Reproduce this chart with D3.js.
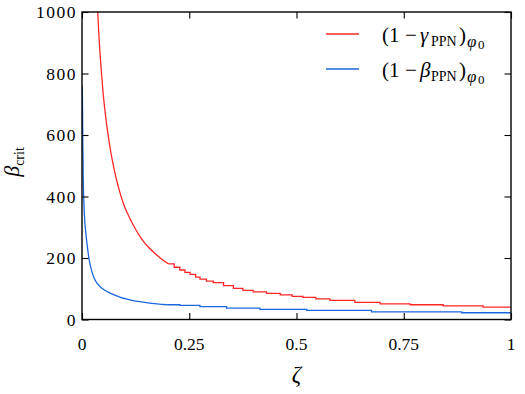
<!DOCTYPE html>
<html>
<head>
<meta charset="utf-8">
<script src="https://cdn.jsdelivr.net/npm/d3@7"></script>
<style>
  body { margin: 0; background: #fff; }
</style>
</head>
<body>
<div id="chart"></div>
<script>

// values
var gammaZeta = [ 0.034, 0.0366, 0.040, 0.045, 0.050, 0.056, 0.062, 0.068, 0.074, 0.080,
  0.087, 0.093, 0.100, 0.107, 0.114, 0.124, 0.135, 0.145, 0.155, 0.165, 0.180, 0.190,
  0.202, 0.215, 0.228, 0.240, 0.252, 0.265, 0.275, 0.290, 0.306, 0.330, 0.353, 0.375,
  0.399, 0.430, 0.462, 0.490, 0.515, 0.545, 0.578, 0.636, 0.695, 0.765, 0.842, 0.935, 1.0 ];
var gammaCrit = [ 1075, 1000, 910, 810, 725, 650, 590, 538, 495, 457,
  420, 392, 364, 342, 322, 296, 270, 251, 235, 221, 203, 192,
  181, 170, 161, 153, 147, 138, 131, 125, 120, 110, 101, 95,
  90, 85, 80, 75, 72, 67, 62, 56, 51, 48, 44, 40, 40 ];

var betaZeta = [ 0.0005, 0.001, 0.002, 0.003, 0.005, 0.007, 0.009, 0.0125, 0.016, 0.020,
  0.027, 0.035, 0.047, 0.060, 0.075, 0.090, 0.105, 0.125, 0.150, 0.175, 0.200, 0.228,
  0.275, 0.337, 0.415, 0.524, 0.675, 0.885, 1.0 ];
var betaCrit = [ 760, 720, 560, 454, 360, 310, 280, 237, 200, 172,
  139, 118, 101, 90, 80, 72, 66, 60, 55, 51, 48, 46,
  42, 37, 33, 30, 25, 22, 22 ];

var xTicks = [ 0, 0.25, 0.5, 0.75, 1 ];
var xTickLabels = [ "0", "0.25", "0.5", "0.75", "1" ];
var yTicks = [ 0, 200, 400, 600, 800, 1000 ];

var width = 525, height = 394;
var margin = { left: 82, right: 14, top: 12, bottom: 74.5 };
var serif = "'Liberation Serif', 'DejaVu Serif', serif";

var svg = d3.select( "#chart" ).append( "svg" )
  .attr( "width", width ).attr( "height", height )
  .attr( "font-family", serif );

var x = d3.scaleLinear().domain( [ 0, 1 ] ).range( [ margin.left, width - margin.right ] );
var y = d3.scaleLinear().domain( [ 0, 1000 ] ).range( [ height - margin.bottom, margin.top ] );

svg.append( "clipPath" ).attr( "id", "plot" ).append( "rect" )
  .attr( "x", x( 0 ) ).attr( "y", y( 1000 ) )
  .attr( "width", x( 1 ) - x( 0 ) ).attr( "height", y( 0 ) - y( 1000 ) );

// steep part drawn smooth, flat tail as the staircase the data shows
function drawSeries( zs, vs, stepFrom, color ) {
  var pts = zs.map( function( z, i ) { return [ z, vs[ i ] ]; } );
  var head = pts.filter( function( p ) { return p[ 0 ] <= stepFrom; } );
  var tail = pts.filter( function( p ) { return p[ 0 ] >= stepFrom; } );
  var g = svg.append( "g" ).attr( "clip-path", "url(#plot)" );
  var smooth = d3.line().x( function( p ) { return x( p[ 0 ] ); } )
    .y( function( p ) { return y( p[ 1 ] ); } ).curve( d3.curveMonotoneX );
  var steps = d3.line().x( function( p ) { return x( p[ 0 ] ); } )
    .y( function( p ) { return y( p[ 1 ] ); } ).curve( d3.curveStepAfter );
  g.append( "path" ).attr( "d", smooth( head ) );
  g.append( "path" ).attr( "d", steps( tail ) );
  g.selectAll( "path" ).attr( "fill", "none" ).attr( "stroke", color )
    .attr( "stroke-width", 1.3 );
}

drawSeries( gammaZeta, gammaCrit, 0.202, "#ff2626" );
drawSeries( betaZeta, betaCrit, 0.200, "#1c66dc" );

// axes with inward ticks on all four sides
function ticks( axis, scale, values, size ) {
  return axis( scale ).tickValues( values ).tickSize( size ).tickFormat( "" );
}
var xMinor = d3.range( 0, 1.0001, 0.05 );
var yMinor = d3.range( 0, 1001, 100 );

var axes = [
  [ d3.axisBottom, x, "translate(0," + y( 0 ) + ")" ],
  [ d3.axisTop, x, "translate(0," + y( 1000 ) + ")" ],
  [ d3.axisLeft, y, "translate(" + x( 0 ) + ",0)" ],
  [ d3.axisRight, y, "translate(" + x( 1 ) + ",0)" ]
];
axes.forEach( function( a, i ) {
  var isX = i < 2;
  var g = svg.append( "g" ).attr( "transform", a[ 2 ] );
  g.call( ticks( a[ 0 ], a[ 1 ], isX ? xMinor : yMinor, -4 ) );
  g.call( ticks( a[ 0 ], a[ 1 ], isX ? xTicks : yTicks, -6.5 ) );
  g.select( ".domain" ).remove();
  g.selectAll( "line" ).attr( "stroke", "#000" ).attr( "stroke-width", 1.1 );
  g.selectAll( "text" ).remove();
} );

svg.append( "rect" )
  .attr( "x", x( 0 ) ).attr( "y", y( 1000 ) )
  .attr( "width", x( 1 ) - x( 0 ) ).attr( "height", y( 0 ) - y( 1000 ) )
  .attr( "fill", "none" ).attr( "stroke", "#000" ).attr( "stroke-width", 1.4 );

// tick labels
svg.append( "g" ).selectAll( "text" ).data( xTicks ).join( "text" )
  .attr( "x", function( d ) { return x( d ); } )
  .attr( "y", y( 0 ) + 30 )
  .attr( "text-anchor", "middle" )
  .attr( "font-size", 17.5 )
  .text( function( d, i ) { return xTickLabels[ i ]; } );

svg.append( "g" ).selectAll( "text" ).data( yTicks ).join( "text" )
  .attr( "x", x( 0 ) - 5 )
  .attr( "y", function( d ) { return y( d ) + 6; } )
  .attr( "text-anchor", "end" )
  .attr( "font-size", 17.5 )
  .attr( "letter-spacing", 1.5 )
  .text( function( d ) { return d; } );

// axis titles
svg.append( "text" )
  .attr( "x", ( x( 0 ) + x( 1 ) ) / 2 ).attr( "y", 382 )
  .attr( "text-anchor", "middle" )
  .attr( "font-size", 23 ).attr( "font-style", "italic" )
  .text( "ζ" );

var yTitle = svg.append( "text" )
  .attr( "transform", "translate(19,162) rotate(-90)" )
  .attr( "text-anchor", "middle" )
  .attr( "font-size", 22 );
yTitle.append( "tspan" ).attr( "font-style", "italic" ).text( "β" );
yTitle.append( "tspan" ).attr( "dy", 5 ).attr( "font-size", 14 ).text( "crit" );

// legend
var legend = [
  { color: "#ff2626", sym: "γ", y: 34 },
  { color: "#1c66dc", sym: "β", y: 69 }
];
legend.forEach( function( l ) {
  svg.append( "line" )
    .attr( "x1", 326 ).attr( "x2", 359 ).attr( "y1", l.y ).attr( "y2", l.y )
    .attr( "stroke", l.color ).attr( "stroke-width", 1.3 );
  var base = l.y + 8;
  var t = svg.append( "text" ).attr( "font-size", 21 );
  t.append( "tspan" ).attr( "x", 382 ).attr( "y", base ).text( "(1" );
  t.append( "tspan" ).attr( "x", 405 ).attr( "y", base ).text( "−" );
  t.append( "tspan" ).attr( "x", 420 ).attr( "y", base )
    .attr( "font-style", "italic" ).text( l.sym );
  t.append( "tspan" ).attr( "x", 431 ).attr( "y", base + 4 )
    .attr( "font-size", 14 ).text( "PPN" );
  t.append( "tspan" ).attr( "x", 459 ).attr( "y", base ).text( ")" );
  t.append( "tspan" ).attr( "x", 467 ).attr( "y", base + 5 ).attr( "font-size", 17 )
    .attr( "font-style", "italic" ).text( "φ" );
  t.append( "tspan" ).attr( "x", 478 ).attr( "y", base + 7 )
    .attr( "font-size", 13 ).text( "0" );
} );

</script>
</body>
</html>
